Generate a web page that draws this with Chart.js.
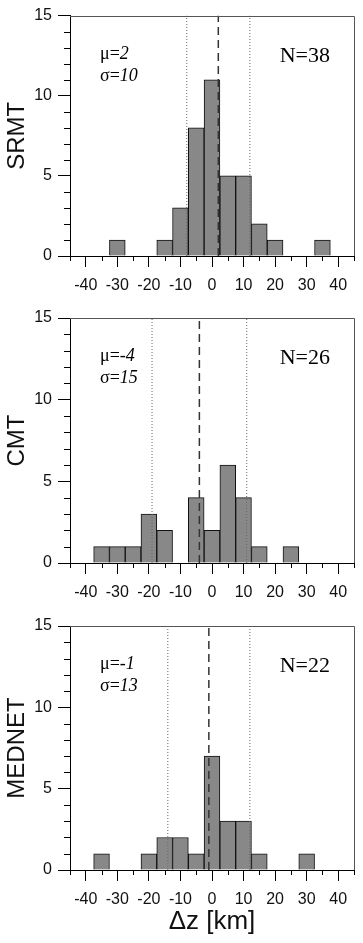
<!DOCTYPE html>
<html><head><meta charset="utf-8">
<script src="https://cdn.jsdelivr.net/npm/chart.js@4"></script>
<style>
html,body{margin:0;padding:0;background:#fff;}
body{width:363px;height:943px;position:relative;overflow:hidden;}
canvas{position:absolute;left:0;}
</style></head><body>
<canvas id="c1" width="363" height="300" style="top:0px"></canvas>
<canvas id="c2" width="363" height="310" style="top:300px"></canvas>
<canvas id="c3" width="363" height="333" style="top:610px"></canvas>
<script>
// ---- data ----
const panelNames = ['SRMT', 'CMT', 'MEDNET'];
const srmtBins   = [-30, -15, -10, -5, 0, 5, 10, 15, 20, 35];
const srmtCounts = [1, 1, 3, 8, 11, 5, 5, 2, 1, 1];
const cmtBins    = [-35, -30, -25, -20, -15, -5, 0, 5, 10, 15, 25];
const cmtCounts  = [1, 1, 1, 3, 2, 4, 2, 6, 4, 1, 1];
const mednetBins   = [-35, -20, -15, -10, -5, 0, 5, 10, 15, 30];
const mednetCounts = [1, 1, 2, 2, 1, 7, 3, 3, 1, 1];
const means  = [2, -4, -1];
const sigmas = [10, 15, 13];
const totals = [38, 26, 22];
const xTickLabels = [-40, -30, -20, -10, 0, 10, 20, 30, 40];
const yTickLabels = [0, 5, 10, 15];
const xTitle = 'Δz [km]';

const binsList = [srmtBins, cmtBins, mednetBins];
const countsList = [srmtCounts, cmtCounts, mednetCounts];

// ---- layout (canvas coords) ----
const canvasH = [300, 310, 333];
const plotTop = [11, 18, 16];
const plotBottom = [256, 263, 260];

const SANS = "'Liberation Sans', Arial, sans-serif";
const SERIF = "'Liberation Serif', 'Times New Roman', serif";

const decorPlugin = {
  id: 'decor',
  afterDraw(chart, args, opts) {
    const ctx = chart.ctx;
    const ca = chart.chartArea;
    const xs = chart.scales.x, ys = chart.scales.y;
    ctx.save();
    // frame top & right
    ctx.strokeStyle = '#555';
    ctx.lineWidth = 1;
    ctx.beginPath();
    ctx.moveTo(Math.round(ca.left), Math.round(ca.top) + 0.5);
    ctx.lineTo(Math.round(ca.right) + 0.5, Math.round(ca.top) + 0.5);
    ctx.lineTo(Math.round(ca.right) + 0.5, Math.round(ca.bottom));
    ctx.stroke();
    // minor ticks
    ctx.strokeStyle = '#000';
    ctx.beginPath();
    for (let v = -45; v <= 45; v += 5) {
      if (xTickLabels.includes(v)) continue;
      const px = Math.round(xs.getPixelForValue(v)) + 0.5;
      ctx.moveTo(px, ca.bottom);
      ctx.lineTo(px, ca.bottom + 5);
    }
    for (let v = 0; v <= 15; v += 1) {
      if (yTickLabels.includes(v)) continue;
      const py = Math.round(ys.getPixelForValue(v)) + 0.5;
      ctx.moveTo(ca.left - 6, py);
      ctx.lineTo(ca.left, py);
    }
    ctx.stroke();
    // annotations
    const i = opts.idx;
    ctx.fillStyle = '#000';
    ctx.textBaseline = 'alphabetic';
    ctx.textAlign = 'left';
    const x0 = ca.left + 30;
    const up = '18px ' + SERIF, it = 'italic 18px ' + SERIF;
    ctx.font = up; ctx.fillText('μ=', x0, ca.top + 43);
    let w = ctx.measureText('μ=').width;
    ctx.font = it; ctx.fillText(String(means[i]), x0 + w, ca.top + 43);
    ctx.font = up; ctx.fillText('σ=', x0, ca.top + 65);
    w = ctx.measureText('σ=').width;
    ctx.font = it; ctx.fillText(String(sigmas[i]), x0 + w, ca.top + 65);
    ctx.font = '22px ' + SERIF;
    ctx.textAlign = 'right';
    ctx.fillText('N=' + totals[i], ca.right - 24, ca.top + 46);
    ctx.restore();
  }
};

function vline(x, dash, color, width) {
  return {
    type: 'line',
    data: [{x: x, y: 0}, {x: x, y: 15}],
    borderColor: color, borderWidth: width, borderDash: dash,
    pointRadius: 0, fill: false, order: 0
  };
}

for (let i = 0; i < 3; i++) {
  const bars = binsList[i].map((b, k) => ({x: b, y: countsList[i][k]}));
  const isLast = i === 2;
  new Chart(document.getElementById('c' + (i + 1)), {
    data: {
      datasets: [
        vline(means[i], [8, 5], '#333', 1.5),
        vline(means[i] - sigmas[i], [1, 2], '#666', 1),
        vline(means[i] + sigmas[i], [1, 2], '#666', 1),
        {
          type: 'bar', data: bars,
          backgroundColor: '#888888', borderColor: '#111', borderWidth: 1,
          barPercentage: 1, categoryPercentage: 1, order: 1
        }
      ]
    },
    options: {
      responsive: false, animation: false, devicePixelRatio: 1,
      layout: {padding: {top: plotTop[i], right: 5, left: 0, bottom: 0}},
      plugins: {legend: {display: false}, tooltip: {enabled: false}, decor: {idx: i}},
      scales: {
        x: {
          type: 'linear', min: -45, max: 45, offset: false,
          afterFit: s => { s.height = canvasH[i] - plotBottom[i]; },
          ticks: {
            stepSize: 5, autoSkip: false, maxRotation: 0, padding: 9,
            color: '#111', font: {family: SANS, size: 16},
            callback: v => xTickLabels.includes(v) ? String(v) : ''
          },
          grid: {
            offset: false, drawOnChartArea: false, drawTicks: true, tickLength: 11,
            tickColor: c => xTickLabels.includes(c.tick && c.tick.value) ? '#000' : 'rgba(0,0,0,0)'
          },
          border: {display: true, color: '#000', width: 1},
          title: {
            display: isLast, text: xTitle, color: '#111',
            font: {family: SANS, size: 26}, padding: {top: 0, bottom: 6}
          }
        },
        y: {
          min: 0, max: 15,
          afterFit: s => { s.width = 70; },
          ticks: {
            stepSize: 1, autoSkip: false, padding: 6,
            color: '#111', font: {family: SANS, size: 16},
            callback: v => yTickLabels.includes(v) ? String(v) : ''
          },
          grid: {
            drawOnChartArea: false, drawTicks: true, tickLength: 12,
            tickColor: c => yTickLabels.includes(c.tick && c.tick.value) ? '#000' : 'rgba(0,0,0,0)'
          },
          border: {display: true, color: '#000', width: 1},
          title: {
            display: true, text: panelNames[i], color: '#111',
            font: {family: SANS, size: 24}, padding: {top: 3, bottom: 0}
          }
        }
      }
    },
    plugins: [decorPlugin]
  });
}
</script>
</body></html>
